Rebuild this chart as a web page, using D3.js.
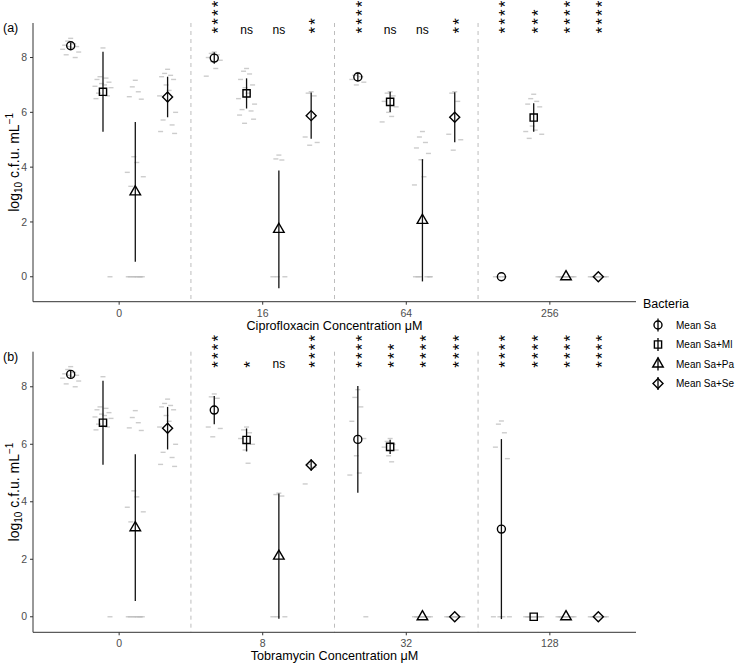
<!DOCTYPE html>
<html>
<head>
<meta charset="utf-8">
<title>cfu</title>
<script src="https://d3js.org/d3.v7.min.js"></script>
<style>
  body { margin: 0; background: #fff; }
  text { font-family: "Liberation Sans", Arial, sans-serif; }
</style>
</head>
<body>
<script>
// categories
const bacteria = ["Mean Sa", "Mean Sa+Ml", "Mean Sa+Pa", "Mean Sa+Se"];
const ciproConc = ["0", "16", "64", "256"];
const tobraConc = ["0", "8", "32", "128"];
const yTicks = [0, 2, 4, 6, 8];

// mean / sd per concentration (rows) and bacteria (cols), log10 cfu/mL
const ciproMean = [[8.43, 6.75, 3.10, 6.56], [7.98, 6.69, 1.73, 5.88], [7.29, 6.38, 2.06, 5.82], [0, 5.81, 0, 0]];
const ciproSd   = [[0.12, 1.46, 2.55, 0.74], [0.21, 0.55, 2.15, 0.84], [0.16, 0.37, 2.23, 0.91], [0, 0.52, 0, 0]];
const tobraMean = [[8.43, 6.75, 3.10, 6.56], [7.19, 6.15, 2.11, 5.28], [6.17, 5.91, 0, 0], [3.05, 0, 0, 0]];
const tobraSd   = [[0.12, 1.46, 2.55, 0.74], [0.49, 0.40, 2.18, 0.20], [1.86, 0.25, 0, 0], [3.13, 0, 0, 0]];

// significance labels
const ciproSig = [["", "", "", ""], ["****", "ns", "ns", "**"], ["****", "ns", "ns", "**"], ["****", "***", "****", "****"]];
const tobraSig = [["", "", "", ""], ["****", "*", "ns", "****"], ["****", "***", "****", "****"], ["****", "****", "****", "****"]];

// replicate values
const control = [
  [8.7, 8.6, 8.5, 8.45, 8.4, 8.4, 8.35, 8.3, 8.2, 8.1, 8.0],
  [8.35, 7.3, 7.25, 7.2, 7.1, 7.05, 7.0, 6.95, 6.9, 6.7, 6.6, 6.5, 0],
  [7.17, 6.93, 6.75, 6.57, 6.48, 4.38, 4.17, 3.81, 3.65, 3.3, 0, 0, 0, 0, 0, 0, 0, 0],
  [7.57, 7.42, 7.35, 7.3, 7.2, 7.0, 6.8, 6.6, 6.0, 5.72, 5.54, 5.3, 5.23]
];
const cipro16 = [
  [8.2, 8.15, 8.1, 8.0, 7.9, 7.85, 7.6, 7.32],
  [7.6, 7.5, 7.4, 7.2, 7.0, 6.9, 6.7, 6.5, 6.3, 6.1, 6.05, 5.9, 5.75, 5.6],
  [4.44, 4.3, 4.26, 0, 0, 0],
  [6.75, 6.7, 6.6, 5.1, 4.9, 4.8]
];
const cipro64 = [
  [7.45, 7.35, 7.3, 7.2, 7.1, 7.0],
  [6.75, 6.7, 6.6, 6.4, 6.2, 6.0, 5.85, 5.65],
  [5.3, 5.1, 4.9, 4.7, 4.5, 4.27, 3.65, 3.35, 0, 0, 0, 0, 0, 0],
  [6.75, 6.7, 6.4, 5.2, 5.0, 4.62]
];
const cipro256 = [
  [0, 0, 0, 0],
  [6.66, 6.5, 6.4, 6.3, 6.2, 5.5, 5.35, 5.3, 5.2, 5.05],
  [0, 0, 0, 0, 0, 0, 0, 0, 0, 0],
  [0, 0, 0, 0, 0, 0, 0, 0, 0, 0]
];
const tobra8 = [
  [7.75, 7.65, 7.6, 6.6, 6.55, 6.26],
  [6.6, 6.5, 6.4, 6.2, 6.0, 5.8, 5.34],
  [4.3, 4.25, 4.2, 0, 0, 0],
  [5.4, 5.3, 5.2, 4.62]
];
const tobra32 = [
  [7.9, 7.63, 7.3, 6.8, 6.2, 5.6, 5.0, 4.93, 0],
  [6.2, 6.1, 6.0, 5.9, 5.8, 5.6, 5.39],
  [0, 0, 0, 0, 0, 0, 0, 0, 0, 0],
  [0, 0, 0, 0, 0, 0, 0, 0, 0, 0]
];
const tobra128 = [
  [6.81, 6.7, 6.4, 5.9, 5.5, 0, 0, 0, 0],
  [0, 0, 0, 0, 0, 0, 0, 0, 0, 0],
  [0, 0, 0, 0, 0, 0, 0, 0, 0, 0],
  [0, 0, 0, 0, 0, 0, 0, 0, 0, 0]
];

// ---- drawing ----
const W = 735, H = 664;
const left = 33, right = 636;
const jit = [0, -3, 3, -6, 6, -1.5, 1.5, -8, 8, -4.5, 4.5, -7, 7, -2, 2, -5, 5];
const shapes = [
  d3.symbol(d3.symbolCircle, Math.PI * 16),
  d3.symbol(d3.symbolSquare, 52),
  d3.symbol(d3.symbolTriangle, 48),
  d3.symbol(d3.symbolSquare, 50)
];
const shapeRot = [0, 0, 0, 45];
const starSize = 17;

const svg = d3.select("body").append("svg")
  .attr("width", W).attr("height", H);

function drawPanel(cfg) {
  const g = svg.append("g");
  const y = d3.scaleLinear().domain(cfg.domain).range([cfg.bottom, cfg.top]);
  const x = d3.scalePoint().domain(cfg.conc).range([left, right]).padding(0.6);
  const step = x.step();
  const dodge = d3.scaleBand().domain(bacteria).range([-0.45 * step, 0.45 * step]);
  const bx = (c, b) => x(c) + dodge(b) + dodge.bandwidth() / 2;

  // dashed separators
  for (let i = 0; i < cfg.conc.length - 1; i++) {
    const sx = (x(cfg.conc[i]) + x(cfg.conc[i + 1])) / 2;
    g.append("line").attr("x1", sx).attr("x2", sx)
      .attr("y1", cfg.top).attr("y2", cfg.bottom)
      .attr("stroke", "#bdbdbd").attr("stroke-width", 1)
      .attr("stroke-dasharray", "4,4");
  }

  // raw replicates
  cfg.conc.forEach((c, ci) => {
    cfg.raw[ci].forEach((vals, bi) => {
      vals.forEach((v, k) => {
        const cx = bx(c, bacteria[bi]) + jit[k % jit.length];
        g.append("line")
          .attr("x1", cx - 2.5).attr("x2", cx + 2.5)
          .attr("y1", y(v)).attr("y2", y(v))
          .attr("stroke", "#bcbcbc").attr("stroke-width", 1.4)
          .attr("opacity", 0.75);
      });
    });
  });

  // error bars and means
  cfg.conc.forEach((c, ci) => {
    bacteria.forEach((b, bi) => {
      const m = cfg.mean[ci][bi], s = cfg.sd[ci][bi];
      const cx = bx(c, b);
      if (s > 0) {
        g.append("line").attr("x1", cx).attr("x2", cx)
          .attr("y1", y(m - s)).attr("y2", y(m + s))
          .attr("stroke", "#111").attr("stroke-width", 1.3);
      }
      g.append("path").attr("d", shapes[bi]())
        .attr("transform", `translate(${cx},${y(m)}) rotate(${shapeRot[bi]})`)
        .attr("fill", "none").attr("stroke", "#000").attr("stroke-width", 1.4);

      const lab = cfg.sig[ci][bi];
      const ly = y(cfg.sigY);
      if (lab === "ns") {
        g.append("text").attr("x", cx).attr("y", ly + 4)
          .attr("text-anchor", "middle").attr("font-size", 12)
          .attr("fill", "#000").text("ns");
      } else if (lab) {
        for (let k = 0; k < lab.length; k++) {
          g.append("text")
            .attr("transform", `translate(${cx},${ly - k * 8.7}) rotate(-90)`)
            .attr("y", 0.58 * starSize)
            .attr("text-anchor", "middle").attr("font-size", starSize)
            .attr("fill", "#000").text("*");
        }
      }
    });
  });

  // axes
  g.append("line").attr("x1", left).attr("x2", left)
    .attr("y1", cfg.top).attr("y2", cfg.bottom)
    .attr("stroke", "#333").attr("stroke-width", 1);
  g.append("line").attr("x1", left).attr("x2", right)
    .attr("y1", cfg.bottom).attr("y2", cfg.bottom)
    .attr("stroke", "#333").attr("stroke-width", 1);

  yTicks.forEach(t => {
    g.append("line").attr("x1", left - 3).attr("x2", left)
      .attr("y1", y(t)).attr("y2", y(t)).attr("stroke", "#333");
    g.append("text").attr("x", left - 6).attr("y", y(t) + 3.7)
      .attr("text-anchor", "end").attr("font-size", 10.5)
      .attr("fill", "#4d4d4d").text(t);
  });
  cfg.conc.forEach(c => {
    g.append("line").attr("x1", x(c)).attr("x2", x(c))
      .attr("y1", cfg.bottom).attr("y2", cfg.bottom + 3).attr("stroke", "#333");
    g.append("text").attr("x", x(c)).attr("y", cfg.bottom + 15)
      .attr("text-anchor", "middle").attr("font-size", 10.5)
      .attr("fill", "#4d4d4d").text(c);
  });

  g.append("text").attr("x", (left + right) / 2).attr("y", cfg.bottom + 28)
    .attr("text-anchor", "middle").attr("font-size", 12.6)
    .attr("fill", "#000").text(cfg.xTitle);

  const yt = g.append("text")
    .attr("transform", `translate(19,${(cfg.top + cfg.bottom) / 2}) rotate(-90)`)
    .attr("text-anchor", "middle").attr("font-size", 14).attr("fill", "#000");
  yt.append("tspan").text("log");
  yt.append("tspan").attr("font-size", 10).attr("dy", 3).text("10");
  yt.append("tspan").attr("dy", -3).text(" c.f.u. mL");
  yt.append("tspan").attr("font-size", 10).attr("dy", -6).text("\u22121");

  g.append("text").attr("x", 3).attr("y", cfg.top + 9)
    .attr("font-size", 12.5).attr("fill", "#000").text(cfg.label);
}

drawPanel({
  top: 23, bottom: 301.7, domain: [-0.91, 9.26],
  conc: ciproConc, mean: ciproMean, sd: ciproSd,
  raw: [control, cipro16, cipro64, cipro256],
  sig: ciproSig, sigY: 9.0,
  label: "(a)", xTitle: "Ciprofloxacin Concentration \u03bcM"
});

drawPanel({
  top: 351.7, bottom: 632.3, domain: [-0.54, 9.22],
  conc: tobraConc, mean: tobraMean, sd: tobraSd,
  raw: [control, tobra8, tobra32, tobra128],
  sig: tobraSig, sigY: 8.78,
  label: "(b)", xTitle: "Tobramycin Concentration \u03bcM"
});

// legend
const lg = svg.append("g");
lg.append("text").attr("x", 643).attr("y", 308)
  .attr("font-size", 12.5).attr("fill", "#000").text("Bacteria");
bacteria.forEach((b, i) => {
  const ly = 325 + i * 19.5;
  lg.append("line").attr("x1", 658).attr("x2", 658)
    .attr("y1", ly - 6.5).attr("y2", ly + 6.5)
    .attr("stroke", "#000").attr("stroke-width", 1.3);
  lg.append("path").attr("d", shapes[i]())
    .attr("transform", `translate(658,${ly}) rotate(${shapeRot[i]})`)
    .attr("fill", "none").attr("stroke", "#000").attr("stroke-width", 1.4);
  lg.append("text").attr("x", 676).attr("y", ly + 3.5)
    .attr("font-size", 10).attr("fill", "#000").text(b);
});
</script>
</body>
</html>
